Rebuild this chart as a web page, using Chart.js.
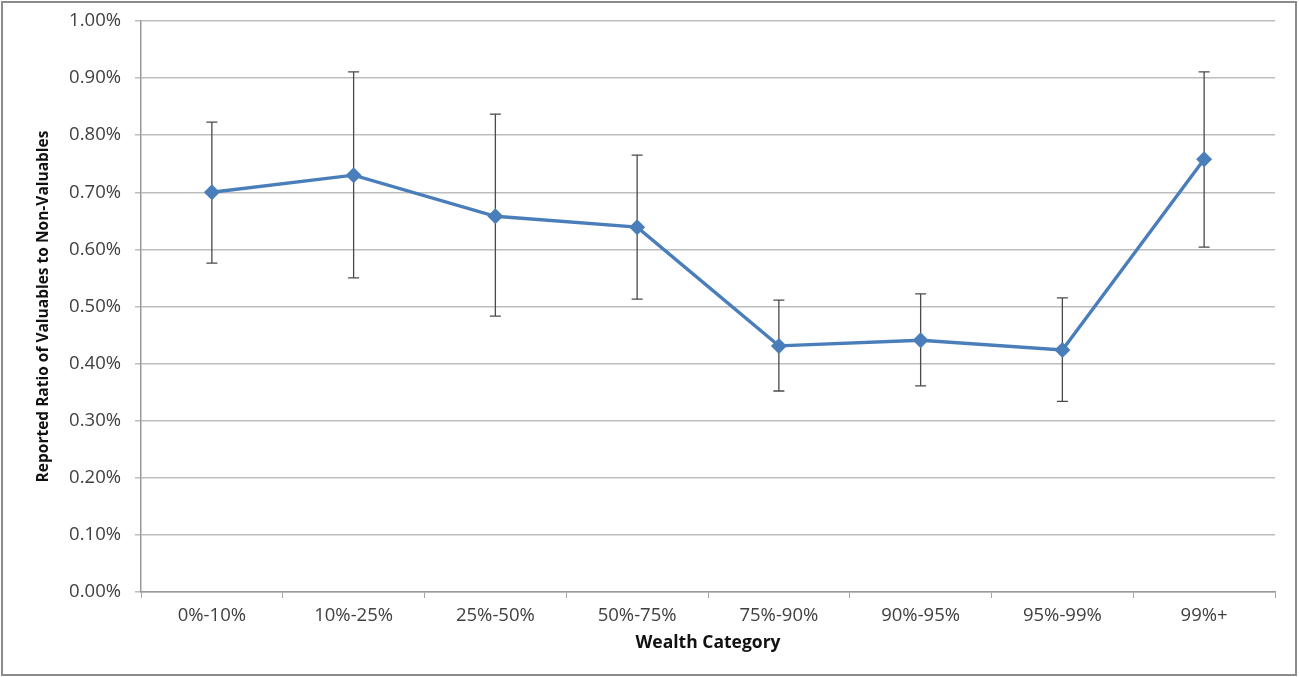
<!DOCTYPE html>
<html>
<head>
<meta charset="utf-8">
<script src="https://cdn.jsdelivr.net/npm/chart.js@4"></script>
<style>
html,body{margin:0;padding:0;background:#fff;}
#wrap{width:1299px;height:677px;position:relative;}
</style>
</head>
<body>
<div id="wrap"><canvas id="c" width="1299" height="677"></canvas></div>
<script>
const categories = ['0%-10%','10%-25%','25%-50%','50%-75%','75%-90%','90%-95%','95%-99%','99%+'];
const ratioValues = [0.700, 0.730, 0.658, 0.639, 0.431, 0.441, 0.424, 0.758];
const errorUpper  = [0.823, 0.911, 0.837, 0.765, 0.511, 0.522, 0.515, 0.911];
const errorLower  = [0.576, 0.550, 0.483, 0.513, 0.352, 0.361, 0.334, 0.604];
const yTickValues = [0, 0.1, 0.2, 0.3, 0.4, 0.5, 0.6, 0.7, 0.8, 0.9, 1.0];

const FONT = "'Open Sans', Lato, sans-serif";

const errorBarPlugin = {
  id: 'errorBars',
  beforeDatasetsDraw(chart) {
    const ctx = chart.ctx;
    const xs = chart.scales.x, ys = chart.scales.y;
    ctx.save();
    ctx.strokeStyle = '#4a4a4a';
    ctx.lineWidth = 1.3;
    const cap = 5.5;
    categories.forEach((c, i) => {
      const x = xs.getPixelForValue(i);
      const yt = ys.getPixelForValue(errorUpper[i]);
      const yb = ys.getPixelForValue(errorLower[i]);
      ctx.beginPath();
      ctx.moveTo(x, yt); ctx.lineTo(x, yb);
      ctx.moveTo(x - cap, yt); ctx.lineTo(x + cap, yt);
      ctx.moveTo(x - cap, yb); ctx.lineTo(x + cap, yb);
      ctx.stroke();
    });
    ctx.restore();
  }
};

const framePlugin = {
  id: 'frame',
  afterDraw(chart) {
    const ctx = chart.ctx;
    ctx.save();
    ctx.strokeStyle = '#8c8c8c';
    ctx.lineWidth = 2;
    ctx.strokeRect(2, 2, 1294, 673);
    ctx.restore();
  }
};

new Chart(document.getElementById('c'), {
  type: 'line',
  data: {
    labels: categories,
    datasets: [{
      data: ratioValues,
      borderColor: '#4a7ebb',
      backgroundColor: '#4a7ebb',
      borderWidth: 3.4,
      pointStyle: 'rectRot',
      pointRadius: 8,
      pointBorderWidth: 0,
      pointBackgroundColor: '#4a7ebb',
      tension: 0
    }]
  },
  options: {
    responsive: false,
    animation: false,
    devicePixelRatio: 1,
    layout: { padding: { left: 34, right: 24, top: 21, bottom: 23 } },
    plugins: { legend: { display: false }, tooltip: { enabled: false } },
    scales: {
      x: {
        type: 'category',
        offset: true,
        grid: {
          offset: true,
          drawOnChartArea: false,
          drawTicks: true,
          tickLength: 6,
          color: '#a6a6a6',
          lineWidth: 1
        },
        border: { color: '#9a9a9a', width: 1.5 },
        ticks: {
          color: '#404040',
          padding: 7,
          maxRotation: 0,
          font: { family: FONT, size: 18.5 }
        },
        title: {
          display: true,
          text: 'Wealth Category',
          color: '#111',
          padding: { top: 3, bottom: 0 },
          font: { family: FONT, size: 17.5, weight: 'bold' }
        },
        afterFit(s) { s.height = 62; }
      },
      y: {
        min: 0,
        max: 1.0,
        afterBuildTicks(s) { s.ticks = yTickValues.map(v => ({ value: v })); },
        grid: {
          color: '#bdbdbd',
          lineWidth: 1.5,
          tickLength: 6,
          drawTicks: true
        },
        border: { color: '#9a9a9a', width: 1.5 },
        ticks: {
          color: '#404040',
          padding: 14,
          font: { family: FONT, size: 18.5 },
          callback: v => v.toFixed(2) + '%'
        },
        title: {
          display: true,
          text: 'Reported Ratio of Valuables to Non-Valuables',
          color: '#111',
          padding: { top: 0, bottom: 4 },
          font: { family: FONT, size: 15.5, weight: 'bold' }
        },
        afterFit(s) { s.width = 107; s.paddingTop = 0; s.paddingBottom = 0; }
      }
    }
  },
  plugins: [errorBarPlugin, framePlugin]
});
</script>
</body>
</html>
